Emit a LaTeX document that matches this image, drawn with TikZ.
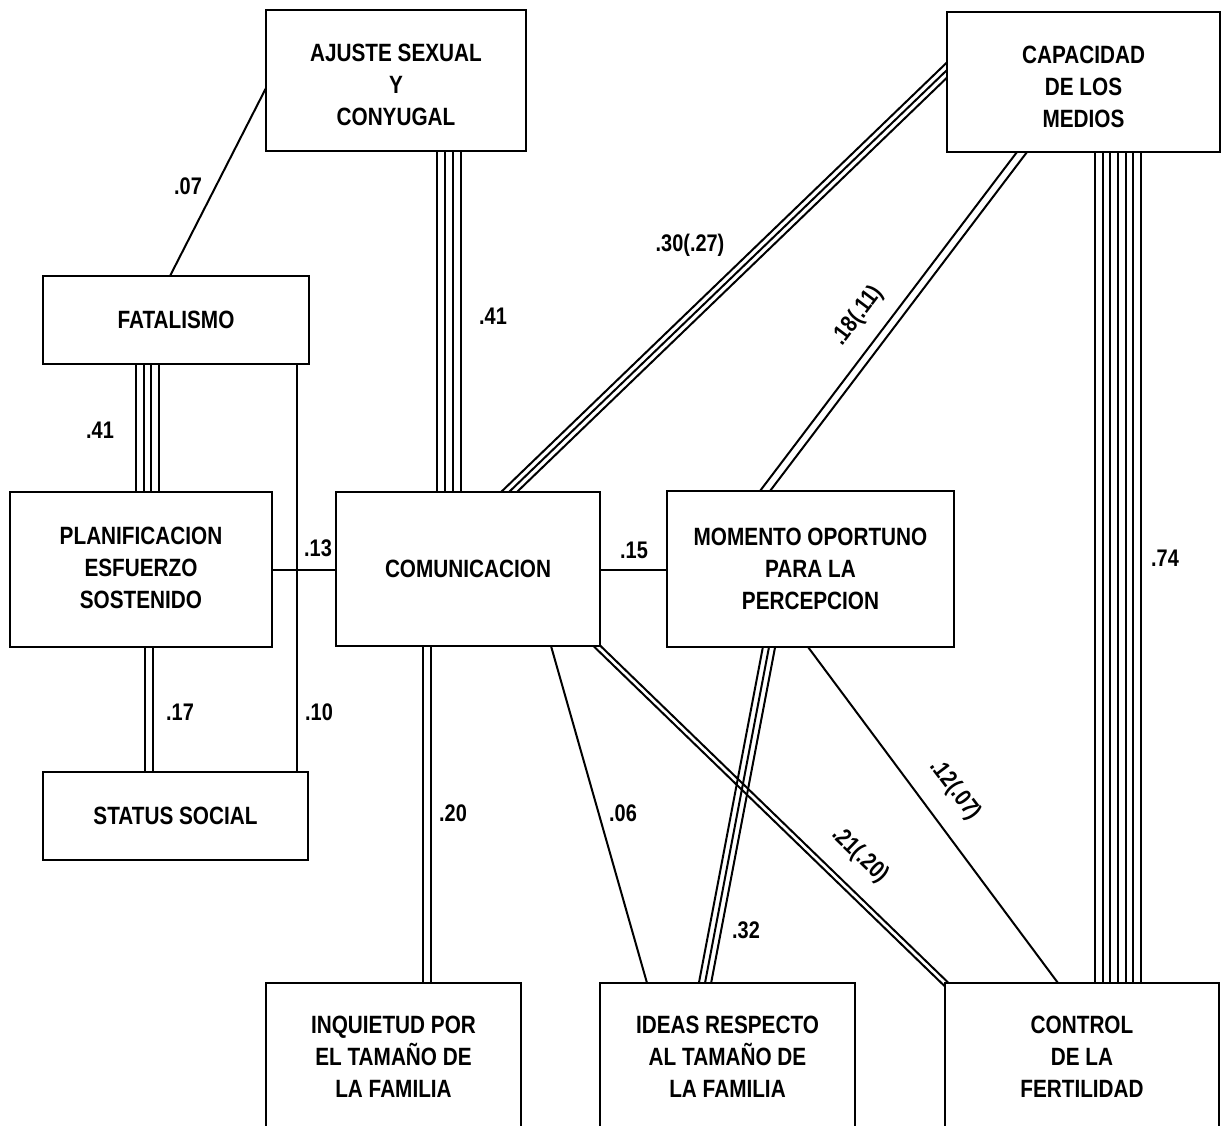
\documentclass[tikz,border=0pt]{standalone}
\usepackage{fontspec}
\setmainfont{Liberation Sans}[FakeStretch=0.83]
\usetikzlibrary{calc,backgrounds}

\tikzset{
  boxtext/.style={inner sep=0pt, align=center,
    font=\fontsize{12.5}{16}\selectfont\bfseries},
  box/.style={boxtext, draw, line width=1.4pt, fill=white},
  link/.style={line width=1pt, shorten <=-6pt, shorten >=-6pt},
  wt/.style={font=\fontsize{12}{14}\selectfont\bfseries, inner sep=0pt},
}

% n parallel strands between two points: #1 from, #2 to, #3 count, #4 spacing
\newcommand\strands[4]{%
  \foreach \k in {1,...,#3}{%
    \pgfmathsetmacro\strandoff{((\k-1)-(#3-1)/2)*#4*0.5}%
    \draw[link] ($(#1)!\strandoff pt!90:(#2)$) -- ($(#2)!\strandoff pt!-90:(#1)$);
  }%
}

\begin{document}
\begin{tikzpicture}[x=0.5pt,y=-0.5pt]
\useasboundingbox (0,0) rectangle (1224,1125);
\clip (0,0) rectangle (1224,1125);

% variables
\node[box, minimum width=130pt, minimum height=70.5pt] (ajuste) at (396,80.5) {};
\node[boxtext] (ajuste-t) at (396,85) {AJUSTE SEXUAL\\Y\\CONYUGAL};
\node[box, minimum width=136.5pt, minimum height=70pt] (capacidad) at (1083.5,82) {};
\node[boxtext] (capacidad-t) at (1083.5,86.5) {CAPACIDAD\\DE LOS\\MEDIOS};
\node[box, minimum width=133pt, minimum height=44pt] (fatalismo) at (176,320) {FATALISMO};
\node[box, minimum width=131pt, minimum height=77.5pt] (planif) at (141,569.5) {};
\node[boxtext] (planif-t) at (141,567.5) {PLANIFICACION\\ESFUERZO\\SOSTENIDO};
\node[box, minimum width=132pt, minimum height=77pt] (comunic) at (468,569) {COMUNICACION};
\node[box, minimum width=143.5pt, minimum height=78pt] (momento) at (810.5,569) {MOMENTO OPORTUNO\\PARA LA\\PERCEPCION};
\node[box, minimum width=132.5pt, minimum height=44pt] (status) at (175.5,816) {STATUS SOCIAL};
\node[box, minimum width=127.5pt, minimum height=73.5pt] (inquietud) at (393.5,1056.5) {INQUIETUD POR\\EL TAMAÑO DE\\LA FAMILIA};
\node[box, minimum width=127.5pt, minimum height=73.5pt] (ideas) at (727.5,1056.5) {IDEAS RESPECTO\\AL TAMAÑO DE\\LA FAMILIA};
\node[box, minimum width=137pt, minimum height=73.5pt] (control) at (1082,1056.5) {CONTROL\\DE LA\\FERTILIDAD};

% attachment points on the box edges
\coordinate (ajuste-w) at (266,88);
\coordinate (ajuste-s) at (449,151);
\coordinate (fat-n) at (170,276);
\coordinate (fat-s) at (147.5,364);
\coordinate (fat-se) at (297,364);
\coordinate (cap-w) at (947,70);
\coordinate (cap-s) at (1022,152);
\coordinate (cap-s2) at (1118,152);
\coordinate (plan-n) at (147.5,492);
\coordinate (plan-e) at (272,570);
\coordinate (plan-s) at (149,647);
\coordinate (com-w) at (336,570);
\coordinate (com-e) at (600,570);
\coordinate (com-n1) at (449,492);
\coordinate (com-n2) at (509,492);
\coordinate (com-s1) at (427,646);
\coordinate (com-s2) at (551,646);
\coordinate (com-s3) at (597,646);
\coordinate (mom-w) at (667,570);
\coordinate (mom-n) at (765,491);
\coordinate (mom-s1) at (769,647);
\coordinate (mom-s2) at (808,647);
\coordinate (stat-n1) at (149,772);
\coordinate (stat-n2) at (297,772);
\coordinate (inq-n) at (427,983);
\coordinate (ideas-n1) at (647,983);
\coordinate (ideas-n2) at (705,983);
\coordinate (ctl-nw) at (945,983);
\coordinate (ctl-n1) at (1058,983);
\coordinate (ctl-n2) at (1118,983);

\begin{pgfonlayer}{background}
\strands{ajuste-w}{fat-n}{1}{0}
\strands{ajuste-s}{com-n1}{4}{8}
\strands{com-n2}{cap-w}{3}{5.5}
\strands{mom-n}{cap-s}{2}{8}
\strands{cap-s2}{ctl-n2}{7}{7.7}
\strands{fat-s}{plan-n}{4}{7.7}
\strands{fat-se}{stat-n2}{1}{0}
\strands{plan-e}{com-w}{1}{0}
\strands{com-e}{mom-w}{1}{0}
\strands{plan-s}{stat-n1}{2}{7.7}
\strands{com-s1}{inq-n}{2}{7.5}
\strands{com-s2}{ideas-n1}{1}{0}
\strands{com-s3}{ctl-nw}{2}{5}
\strands{mom-s1}{ideas-n2}{3}{6}
\strands{mom-s2}{ctl-n1}{1}{0}
\end{pgfonlayer}

% path coefficients
\node[wt] (w07) at (188,186) {.07};
\node[wt] (w41a) at (493,316) {.41};
\node[wt] (w30) at (690,245) {.30(.27)};
\node[wt, rotate=53] (w18) at (858,316) {.18(.11)};
\node[wt] (w74) at (1165,558) {.74};
\node[wt] (w41b) at (100,430) {.41};
\node[wt] (w10) at (319,712) {.10};
\node[wt] (w13) at (318,548) {.13};
\node[wt] (w15) at (634,550) {.15};
\node[wt] (w17) at (180,712) {.17};
\node[wt] (w20) at (453,813) {.20};
\node[wt] (w06) at (623,813) {.06};
\node[wt, rotate=-44] (w21) at (860,855) {.21(.20)};
\node[wt] (w32) at (746,930) {.32};
\node[wt, rotate=-53] (w12) at (955,790) {.12(.07)};
\end{tikzpicture}
\end{document}
